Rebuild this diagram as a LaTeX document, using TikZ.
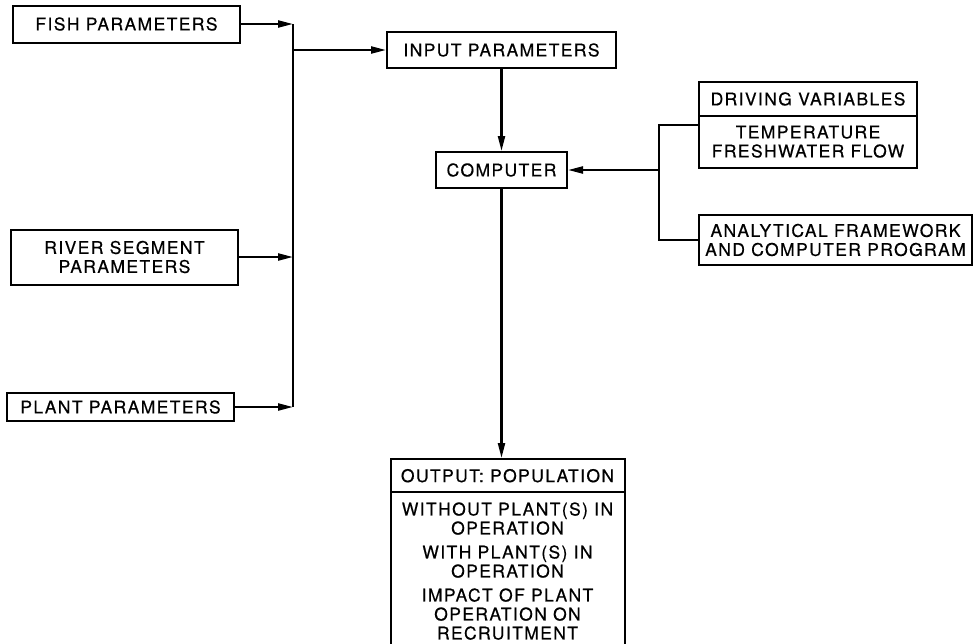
\documentclass[tikz,border=0pt]{standalone}
\usepackage{fontspec}
\setmainfont{TeX Gyre Heros}[LetterSpace=8,FakeBold=0.5]
\usetikzlibrary{arrows.meta, positioning, shapes.multipart}

\begin{document}
\begin{tikzpicture}[x=1pt, y=1pt,
    blk/.style={draw, line width=2pt, minimum width=227pt, align=center, inner sep=0pt,
      font=\fontsize{17.5}{19}\selectfont},
    split/.style={draw, line width=2pt, rectangle split, rectangle split parts=2, align=center,
      inner xsep=4pt, inner ysep=9pt, font=\fontsize{17.5}{19}\selectfont},
    wire/.style={line width=2.2pt},
    arrow/.style={wire, -{Triangle[length=15pt, width=7pt]}}
  ]
  \useasboundingbox (0,0) rectangle (975,-643);

  \node[blk, minimum height=37pt] (fish) at (126.5,-24) {FISH PARAMETERS};
  \node[blk, minimum height=55pt] (river) at (124.5,-257) {RIVER SEGMENT\\PARAMETERS};
  \node[blk, minimum height=28pt] (plant) at (120.5,-407) {PLANT PARAMETERS};

  \node[blk, minimum width=229pt, minimum height=36pt] (input) at (501.5,-50) {INPUT PARAMETERS};
  \node[blk, minimum width=131pt, minimum height=36pt, below=82pt of input] (computer) {COMPUTER};
  \node[split, minimum width=234pt, below=269pt of computer, xshift=6pt] (output)
    {OUTPUT: POPULATION
     \nodepart{two} WITHOUT PLANT(S) IN\\OPERATION\\[5pt]
     WITH PLANT(S) IN\\OPERATION\\[5pt]
     IMPACT OF PLANT\\OPERATION ON\\RECRUITMENT};

  \node[split, minimum width=218pt] (driving) at (808,-125)
    {DRIVING VARIABLES \nodepart{two} TEMPERATURE\\FRESHWATER FLOW};
  \node[blk, minimum width=273pt, minimum height=50pt] (analytic) at (835.5,-240)
    {ANALYTICAL FRAMEWORK\\AND COMPUTER PROGRAM};

  \path (fish.east) ++(52,0) coordinate (bus);
  \draw[arrow] (fish) -- (fish -| bus);
  \draw[arrow] (river) -- (river -| bus);
  \draw[arrow] (plant) -- (plant -| bus);
  \draw[wire] (fish -| bus) -- (plant -| bus);
  \draw[arrow] (input -| bus) -- (input);

  \draw[arrow] (input) -- (computer);
  \draw[arrow] (computer.south) -- (computer.south |- output.north);

  \path (computer.east) ++(91,0) coordinate (join);
  \draw[wire] (driving.west) -- (driving.west -| join) -- (analytic.west -| join) -- (analytic.west);
  \draw[arrow] (join) -- (computer);
\end{tikzpicture}
\end{document}
